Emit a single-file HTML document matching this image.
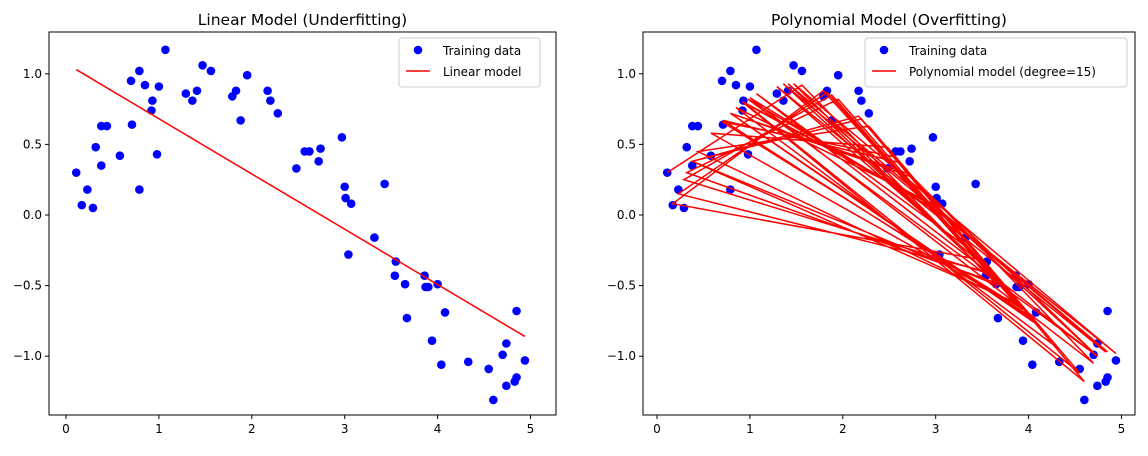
<!DOCTYPE html>
<html><head><meta charset="utf-8"><style>
body{margin:0;background:#fff;font-family:"Liberation Sans","DejaVu Sans",sans-serif}
svg text{font-family:"DejaVu Sans","Liberation Sans",sans-serif}
</style></head><body>
<svg id="c" width="1148" height="451" viewBox="0 0 1148 451" xmlns="http://www.w3.org/2000/svg"></svg>
<script>
const xs=[0.11,0.17,0.23,0.29,0.32,0.38,0.38,0.44,0.58,0.70,0.71,0.79,0.79,0.85,0.93,0.92,1.0,0.98,1.07,1.29,1.36,1.41,1.47,1.56,1.79,1.83,1.88,1.95,2.17,2.20,2.28,2.48,2.57,2.62,2.72,2.74,2.97,3.0,3.01,3.07,3.04,3.32,3.43,3.54,3.55,3.65,3.67,3.86,3.87,3.90,3.94,4.0,4.04,4.08,4.33,4.55,4.60,4.70,4.74,4.74,4.83,4.85,4.85,4.94];
const ys=[0.30,0.07,0.18,0.05,0.48,0.35,0.63,0.63,0.42,0.95,0.64,1.02,0.18,0.92,0.81,0.74,0.91,0.43,1.17,0.86,0.81,0.88,1.06,1.02,0.84,0.88,0.67,0.99,0.88,0.81,0.72,0.33,0.45,0.45,0.38,0.47,0.55,0.20,0.12,0.08,-0.28,-0.16,0.22,-0.43,-0.33,-0.49,-0.73,-0.43,-0.51,-0.51,-0.89,-0.49,-1.06,-0.69,-1.04,-1.09,-1.31,-0.99,-0.91,-1.21,-1.18,-1.15,-0.68,-1.03];
const polyPred=[0.30,0.08,0.15,0.25,0.30,0.38,0.38,0.45,0.58,0.66,0.67,0.72,0.72,0.76,0.80,0.80,0.83,0.82,0.86,0.91,0.93,0.93,0.93,0.92,0.88,0.87,0.85,0.82,0.70,0.68,0.63,0.48,0.41,0.37,0.29,0.27,0.08,0.06,0.05,0.0,0.02,-0.22,-0.31,-0.40,-0.41,-0.48,-0.50,-0.62,-0.63,-0.65,-0.67,-0.71,-0.74,-0.77,-0.95,-1.12,-1.18,-1.05,-1.0,-1.0,-0.97,-0.97,-0.97,-0.98];
const order=[0,23,46,5,28,51,10,33,56,15,38,61,20,43,2,25,48,7,30,53,12,35,58,17,40,63,22,45,4,27,50,9,32,55,14,37,60,19,42,1,24,47,6,29,52,11,34,57,16,39,62,21,44,3,26,49,8,31,54,13,36,59,18,41];
const linX=[0.11,4.94], linY=[1.03,-0.86];
const xTicks=[0,1,2,3,4,5], yTicks=[1.0,0.5,0.0,-0.5,-1.0];
const yLabels=["1.0","0.5","0.0","−0.5","−1.0"];
const svg=document.getElementById('c');
const NS='http://www.w3.org/2000/svg';
function mk(t,a,p){const e=document.createElementNS(NS,t);for(const k in a)e.setAttribute(k,a[k]);(p||svg).appendChild(e);return e;}
function panel(L,R,x0,title,legendLabel,lx,lw,poly){
  const T=32,B=415;
  const X=v=>x0+v*92.9, Y=v=>215-v*141.2;
  const g=mk('g',{});
  
  
  const t=mk('text',{x:(L+R)/2,y:25,'text-anchor':'middle','font-size':15.5},g);t.textContent=title;
  
  xTicks.forEach(v=>{mk('line',{x1:X(v),x2:X(v),y1:B,y2:B+4,stroke:'#000'},g);
    const tx=mk('text',{x:X(v),y:B+18,'text-anchor':'middle','font-size':12},g);tx.textContent=v;
    });
  yTicks.forEach((v,i)=>{mk('line',{x1:L-4,x2:L,y1:Y(v),y2:Y(v),stroke:'#000'},g);
    const ty=mk('text',{x:L-7,y:Y(v)+4,'text-anchor':'end','font-size':12},g);ty.textContent=yLabels[i];
    });
  xs.forEach((x,i)=>{const c=mk('circle',{cx:X(x),cy:Y(ys[i]),r:4.3,fill:'#0000ff'},g);
    });
  let d;
  if(!poly){d='M'+X(linX[0])+','+Y(linY[0])+'L'+X(linX[1])+','+Y(linY[1]);}
  else{d=order.map((k,j)=>(j?'L':'M')+X(xs[k]).toFixed(1)+','+Y(polyPred[k]).toFixed(1)).join('');}
  const p=mk('path',{d:d,stroke:'#ff0000','stroke-width':1.5,fill:'none'},g);
  
  mk('rect',{x:L,y:T,width:R-L,height:B-T,fill:'none',stroke:'#000','stroke-width':1},g);
  const lg=mk('g',{},g);
  
  mk('rect',{x:lx,y:38,width:lw,height:49,rx:3,fill:'#fff','fill-opacity':0.8,stroke:'#ccc'},lg);
  mk('circle',{cx:lx+19,cy:50,r:4.3,fill:'#0000ff'},lg);
  const a=mk('text',{x:lx+44,y:55,'font-size':12},lg);a.textContent='Training data';
  mk('line',{x1:lx+7,x2:lx+31,y1:71,y2:71,stroke:'#ff0000','stroke-width':1.5},lg);
  const b=mk('text',{x:lx+44,y:76,'font-size':12},lg);b.textContent=legendLabel;
}
panel(49,556,66,'Linear Model (Underfitting)','Linear model',399,141,false);
panel(643,1135,657,'Polynomial Model (Overfitting)','Polynomial model (degree=15)',865,262,true);
</script>
</body></html>
